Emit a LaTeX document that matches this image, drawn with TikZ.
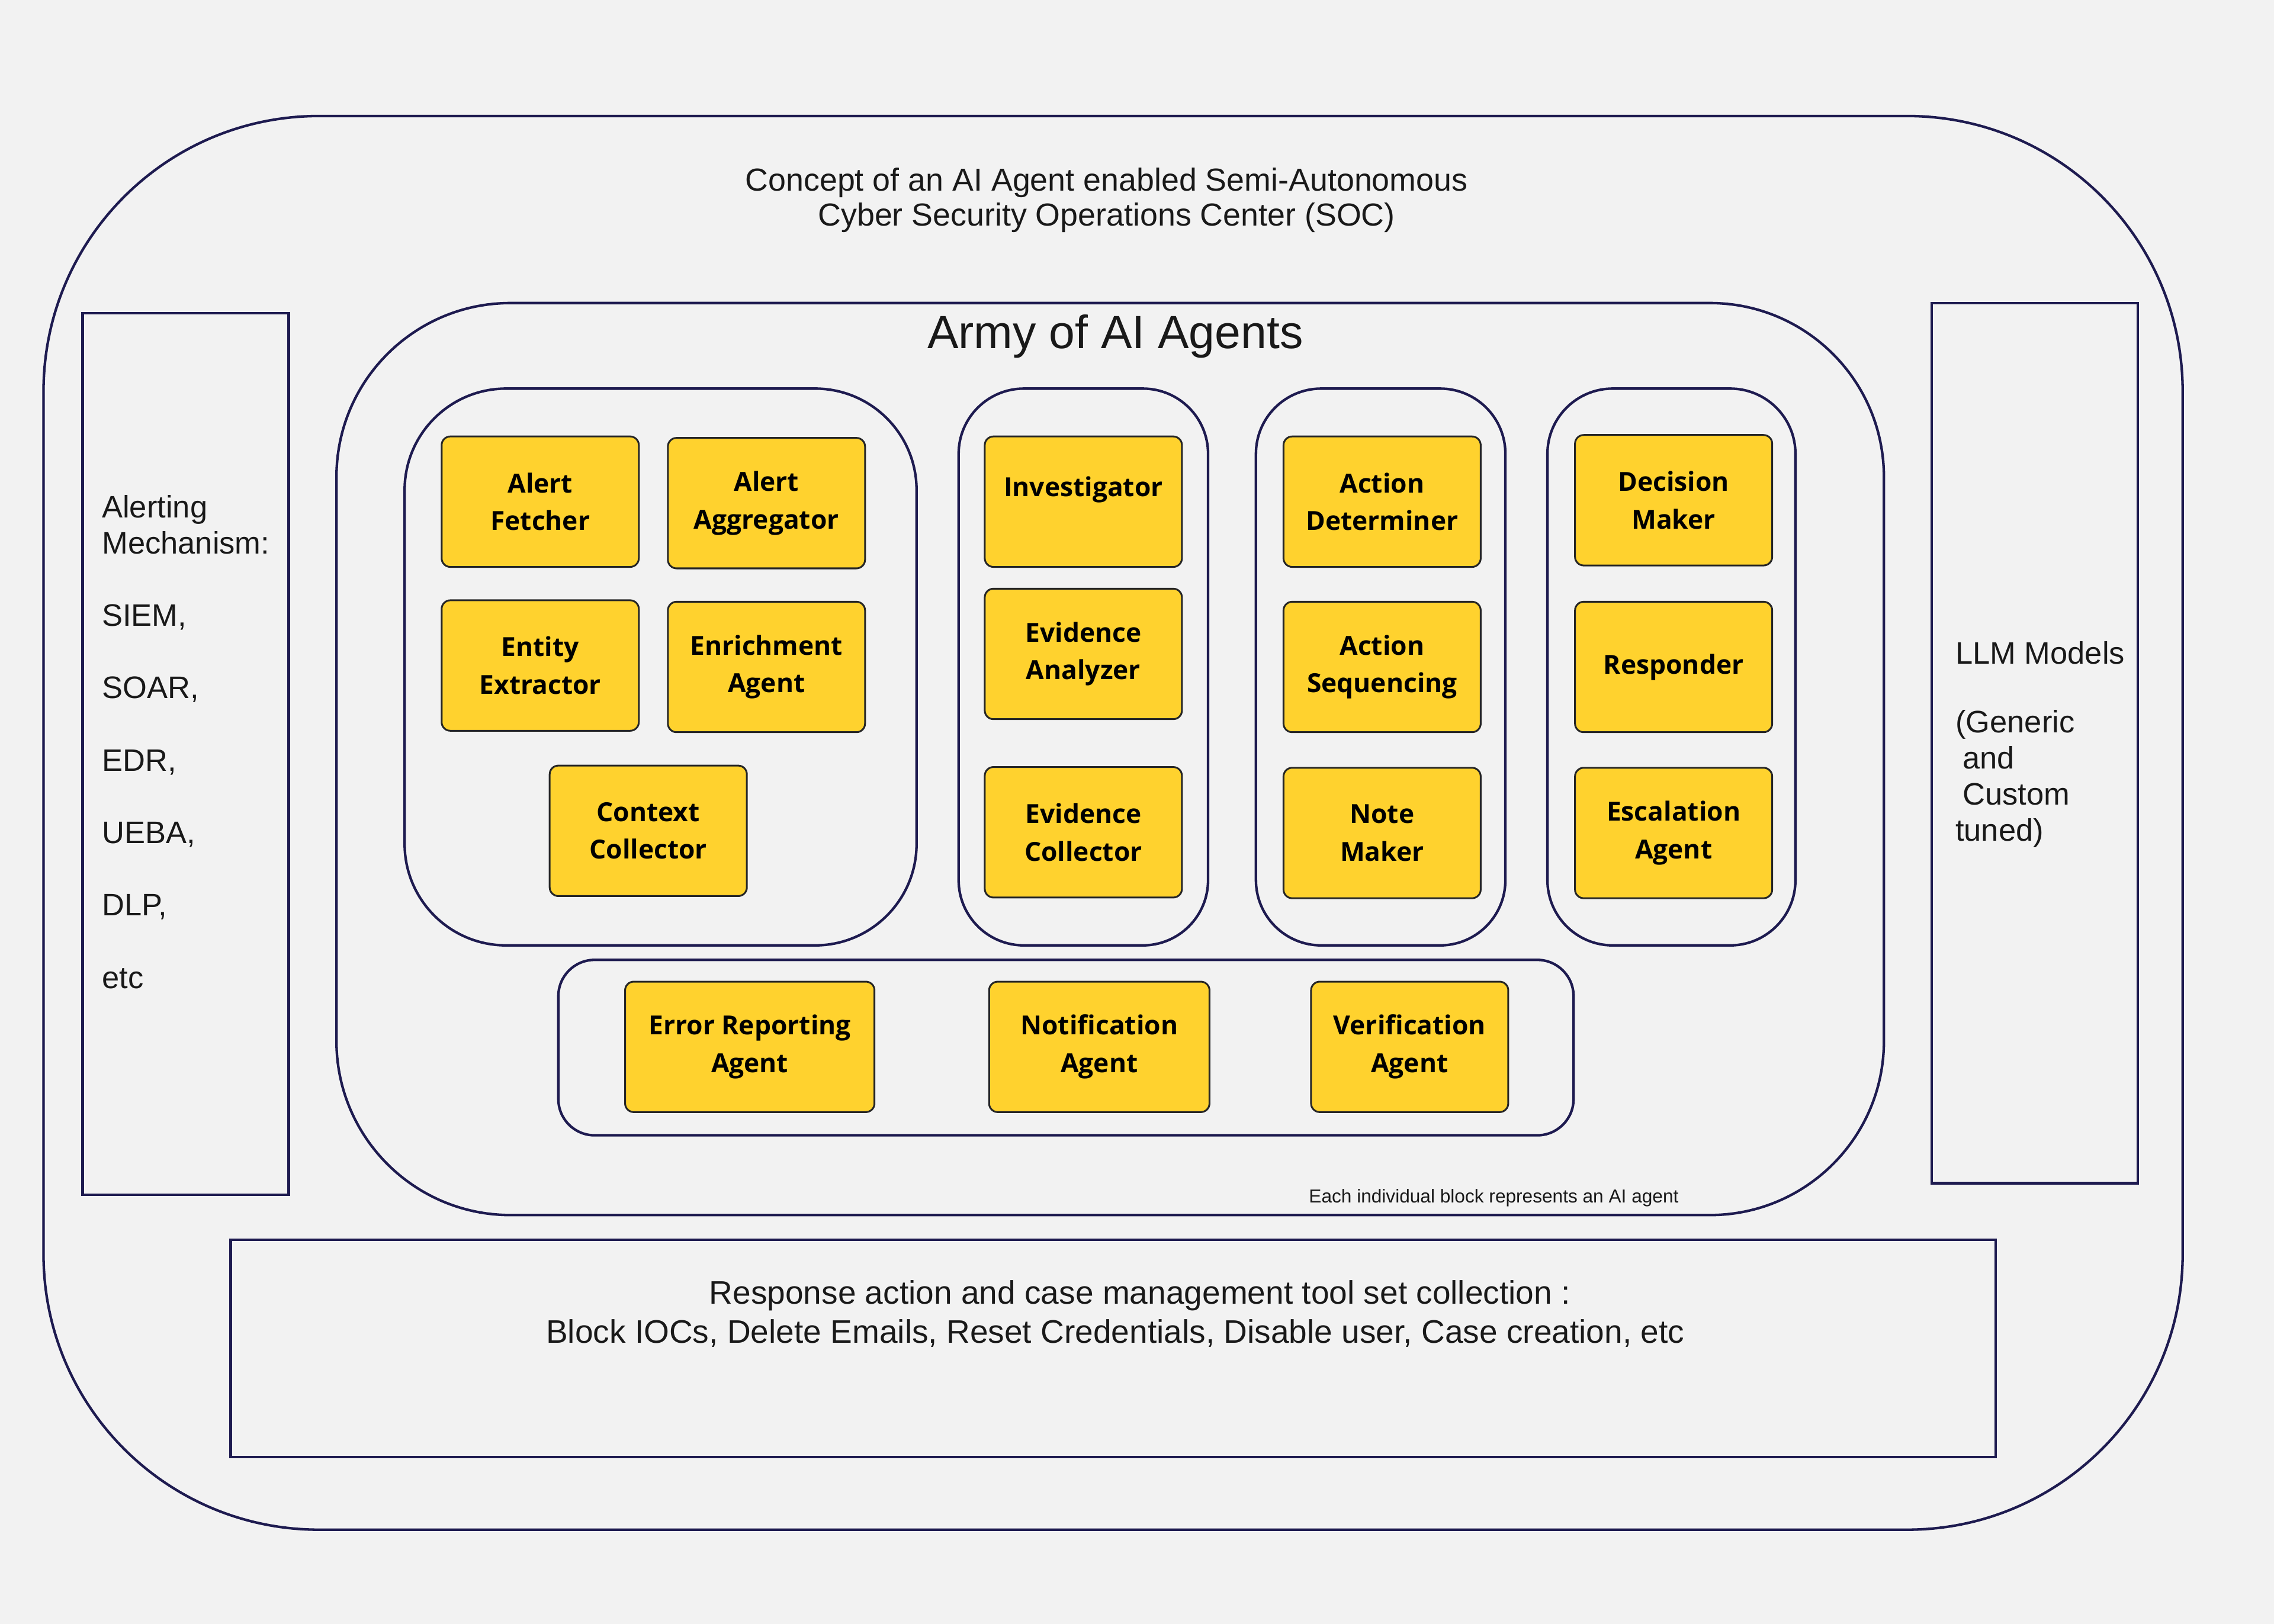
\documentclass[tikz,border=0pt]{standalone}
\usepackage{fontspec}
\setmainfont{Liberation Sans}
\newfontfamily\agentfont{Open Sans}

\definecolor{socnavy}{HTML}{1E1B50}
\definecolor{agentyellow}{HTML}{FFD22E}
\definecolor{paper}{HTML}{F2F2F2}

\tikzset{
    agent/.style={draw=black!85, fill=agentyellow, line width=0.7pt, rounded corners=0.12cm,
        minimum width=2.72cm, minimum height=1.8cm, inner sep=0pt, align=center,
        font=\agentfont\bfseries\fontsize{10.3}{14.8}\selectfont},
    wrapbox/.style={draw=socnavy, line width=1pt},
    sidetext/.style={inner sep=0pt, text=black!90, font=\fontsize{12.2}{14.2}\selectfont}
}

\begin{document}
\begin{tikzpicture}[x=0.02cm, y=-0.02cm]
        \fill[paper] (0,0) rectangle (1568,1120);
        \useasboundingbox (0,0) rectangle (1568,1120);

        % frames
        \draw[wrapbox, rounded corners=3.8cm] (30,80) rectangle (1505,1055);
        \draw[wrapbox] (57,216) rectangle (199,824);
        \draw[wrapbox] (1332,209) rectangle (1474,816);
        \draw[wrapbox, rounded corners=2.4cm] (232,209) rectangle (1299,838);
        \draw[wrapbox, rounded corners=1.4cm] (279,268) rectangle (632,652);
        \draw[wrapbox, rounded corners=0.9cm] (661,268) rectangle (833,652);
        \draw[wrapbox, rounded corners=0.9cm] (866,268) rectangle (1038,652);
        \draw[wrapbox, rounded corners=0.9cm] (1067,268) rectangle (1238,652);
        \draw[wrapbox, rounded corners=0.5cm] (385,662) rectangle (1085,783);
        \draw[wrapbox] (159,855) rectangle (1376,1005);

        % texts
        \node[sidetext, align=center, font=\fontsize{12.5}{13.7}\selectfont] (title) at (763,138)
            {Concept of an AI Agent enabled Semi-Autonomous\\Cyber Security Operations Center (SOC)};
        \node[sidetext, font=\fontsize{18.3}{20}\selectfont] (army) at (769,232) {Army of AI Agents};
        \node[sidetext, anchor=north west, align=left] (alerting) at (70,341)
            {Alerting\\Mechanism:\\[0.5cm]SIEM,\\[0.5cm]SOAR,\\[0.5cm]EDR,\\[0.5cm]UEBA,\\[0.5cm]DLP,\\[0.5cm]etc};
        \node[sidetext, anchor=north west, align=left] (llm) at (1348,442)
            {LLM Models\\[0.45cm](Generic\\\hspace{0.1cm}and\\\hspace{0.1cm}Custom\\tuned)};
        \node[sidetext, font=\fontsize{7.35}{9}\selectfont] (note) at (1030,826)
            {Each individual block represents an AI agent};
        \node[sidetext, align=center, font=\fontsize{12.8}{15.3}\selectfont] (tools) at (769,906)
            {\hspace*{0.68cm}Response action and case management tool set collection :\\Block IOCs, Delete Emails, Reset Credentials, Disable user, Case creation, etc};

        % agents
        \node[agent] (fetcher) at (372.5,346) {Alert\\Fetcher};
        \node[agent] (aggregator) at (528.5,347) {Alert\\Aggregator};
        \node[agent] (extractor) at (372.5,459) {Entity\\Extractor};
        \node[agent] (enrichment) at (528.5,460) {Enrichment\\Agent};
        \node[agent] (context) at (447,573) {Context\\Collector};

        \node[agent] (investigator) at (747,346) {\raisebox{0.42cm}{Investigator}};
        \node[agent] (analyzer) at (747,451) {Evidence\\Analyzer};
        \node[agent] (evcollector) at (747,574) {Evidence\\Collector};

        \node[agent] (determiner) at (953,346) {Action\\Determiner};
        \node[agent] (sequencing) at (953,460) {Action\\Sequencing};
        \node[agent] (notemaker) at (953,574.5) {Note\\Maker};

        \node[agent] (decision) at (1154,345) {Decision\\Maker};
        \node[agent] (responder) at (1154,460) {\raisebox{-0.08cm}{Responder}};
        \node[agent] (escalation) at (1154,574.5) {Escalation\\Agent};

        \node[agent, minimum width=3.44cm] (errorrep) at (517,722) {Error Reporting\\Agent};
        \node[agent, minimum width=3.04cm] (notification) at (758,722) {Notification\\Agent};
        \node[agent] (verification) at (972,722) {Verification\\Agent};
\end{tikzpicture}
\end{document}
